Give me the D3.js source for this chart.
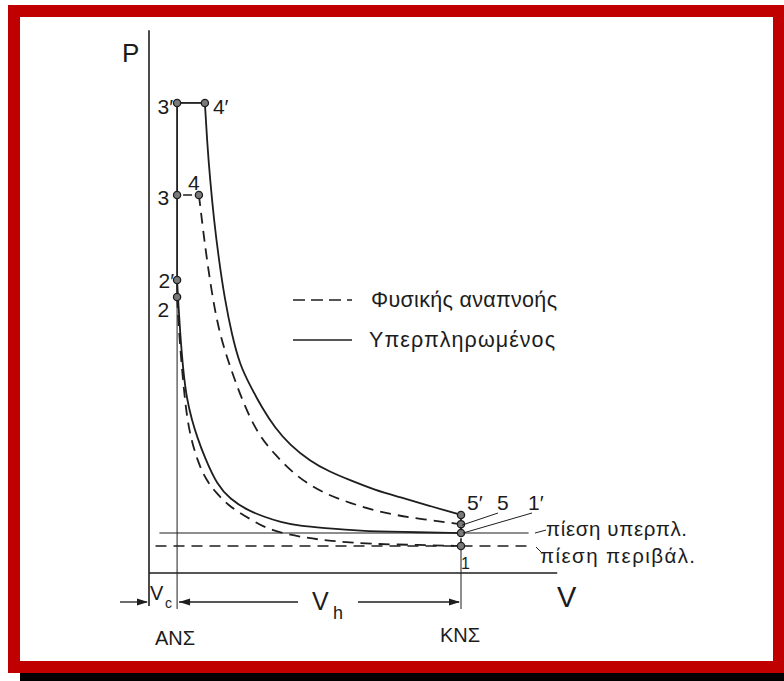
<!DOCTYPE html>
<html>
<head>
<meta charset="utf-8">
<script src="https://cdn.jsdelivr.net/npm/d3@7"></script>
<style>
body { margin: 0; background: #fff; }
svg { display: block; }
text { font-family: "Liberation Sans", Arial, sans-serif; fill: #1c1c1c; }
</style>
</head>
<body>
<div id="chart"></div>
<script>
// state points of the two cycles (V in units of Vc-ish, P in units of ambient pressure)
var pointNames = ["3′", "4′", "3", "4", "2′", "2", "5′", "5", "1′", "1"];
var pointV = [1.08, 2.15, 1.08, 1.92, 1.08, 1.08, 12, 12, 12, 12];
var pointP = [17.41, 17.41, 14.0, 14.0, 10.85, 10.22, 2.15, 1.81, 1.48, 1.0];

// supercharged (solid) expansion 4' -> 5'
var expSolidV = [2.15, 2.23, 2.35, 2.50, 2.69, 2.92, 3.19, 3.50, 3.88, 4.35, 4.85, 5.42, 6.19, 6.96, 7.73, 8.69, 9.65, 10.81, 12];
var expSolidP = [17.41, 16.04, 14.56, 13.07, 11.59, 10.11, 8.81, 7.70, 6.96, 6.11, 5.37, 4.74, 4.15, 3.74, 3.44, 3.07, 2.81, 2.48, 2.15];
// natural aspiration (dashed) expansion 4 -> 5
var expDashV = [1.92, 2.08, 2.23, 2.46, 2.73, 3.12, 3.58, 4.15, 4.85, 5.69, 6.69, 7.73, 9.0, 10.42, 12];
var expDashP = [14.0, 12.70, 11.59, 10.11, 8.81, 7.63, 6.41, 5.19, 4.37, 3.56, 2.96, 2.59, 2.22, 2.0, 1.81];
// supercharged compression 2' <- 1'
var compSolidV = [1.08, 1.12, 1.19, 1.31, 1.46, 1.65, 1.85, 2.15, 2.62, 3.12, 3.77, 4.46, 5.04, 5.81, 6.69, 8.12, 9.65, 12];
var compSolidP = [10.85, 10.11, 9.0, 7.52, 6.41, 5.67, 5.04, 4.26, 3.26, 2.74, 2.33, 2.07, 1.89, 1.74, 1.67, 1.56, 1.52, 1.48];
// natural compression 2 <- 1
var compDashV = [1.08, 1.15, 1.27, 1.42, 1.58, 1.85, 2.19, 2.62, 3.04, 3.50, 4.08, 4.65, 5.81, 6.96, 8.5, 10.42, 12];
var compDashP = [10.22, 9.0, 7.52, 6.04, 5.11, 4.19, 3.44, 2.93, 2.52, 2.22, 1.89, 1.59, 1.33, 1.19, 1.07, 1.04, 1.0];

var pSuper = 1.48, pAmb = 1.0;
var vANS = 1.08, vKNS = 12;
var legendLabels = ["Φυσικής αναπνοής", "Υπερπληρωμένος"];
var pressureLabels = ["πίεση υπερπλ.", "πίεση περιβάλ."];

var W = 784, H = 681;
var svg = d3.select("#chart").append("svg").attr("width", W).attr("height", H);

// frame
svg.append("rect").attr("x", 20).attr("y", 673).attr("width", 764).attr("height", 8).attr("fill", "#000");
svg.append("rect").attr("x", 8).attr("y", 5).attr("width", 776).attr("height", 668).attr("fill", "#c00000");
svg.append("rect").attr("x", 20).attr("y", 17).attr("width", 753).attr("height", 644).attr("fill", "#fff");

var x = d3.scaleLinear().domain([0, 16]).range([149, 565]);
var y = d3.scaleLinear().domain([0, 20]).range([573, 33]);

var ink = "#1e1e1e";
var g = svg.append("g");

function seg(x1, y1, x2, y2, w, dash, col) {
    var l = g.append("line").attr("x1", x1).attr("y1", y1).attr("x2", x2).attr("y2", y2)
        .attr("stroke", col || ink).attr("stroke-width", w);
    if (dash) l.attr("stroke-dasharray", dash);
    return l;
}
function arrow(xt, yt, dir) {
    // filled arrowhead, tip at (xt,yt), dir = +1 points right, -1 points left
    g.append("path").attr("d", "M" + xt + "," + yt + "L" + (xt - dir * 11) + "," + (yt - 3.5) + "L" + (xt - dir * 11) + "," + (yt + 3.5) + "Z")
        .attr("fill", ink);
}
function txt(s, tx, ty, size, anchor) {
    return g.append("text").attr("x", tx).attr("y", ty).attr("font-size", size)
        .attr("text-anchor", anchor || "start").text(s);
}

// axes
seg(x(0), y(20.1), x(0), 606, 1.6);
seg(x(0), y(0), x(15.7), y(0), 1.4);
txt("P", 122, 62, 26);
txt("V", 557, 607, 29);

// ANS / KNS lines and pressure levels
seg(x(vANS), y(pointP[5]), x(vANS), 609, 1);
seg(x(vKNS), y(pAmb), x(vKNS), 609, 1);
seg(x(0.4), y(pSuper), x(14.6), y(pSuper), 1.1);
seg(x(0.25), y(pAmb), x(14.55), y(pAmb), 1.4, "11,7");
seg(535, y(pSuper), 546, y(pSuper) - 3, 1);
seg(536, y(pAmb) + 1, 541, y(pAmb) + 6, 1);
txt(pressureLabels[0], 546, 536, 20.5).attr("textLength", 141);
txt(pressureLabels[1], 540, 563, 20.5).attr("textLength", 155);

var line = d3.line().x(function(d) { return x(d[0]); }).y(function(d) { return y(d[1]); })
    .curve(d3.curveBasis);
function curve(vs, ps, dash) {
    var p = g.append("path").datum(d3.zip(vs, ps)).attr("d", line)
        .attr("fill", "none").attr("stroke", ink).attr("stroke-width", 1.8);
    if (dash) p.attr("stroke-dasharray", dash);
}
curve(expSolidV, expSolidP);
curve(compSolidV, compSolidP);
curve(expDashV, expDashP, "11,7");
curve(compDashV, compDashP, "11,7");

// constant volume / pressure segments
seg(x(pointV[0]), y(pointP[0]), x(pointV[1]), y(pointP[1]), 1.8);
seg(x(vANS), y(pointP[0]), x(vANS), y(pointP[5]), 1.8);
seg(x(pointV[2]), y(pointP[2]), x(pointV[3]), y(pointP[3]), 1.6, "0,6,9,40");
seg(x(vKNS), y(pointP[6]), x(vKNS), y(pointP[8]), 1.8);
seg(x(vKNS), y(pointP[7]), x(vKNS), y(pointP[9]), 1.6, "4,3");

// state points
pointNames.forEach(function(n, i) {
    g.append("circle").attr("cx", x(pointV[i])).attr("cy", y(pointP[i])).attr("r", 3.6)
        .attr("fill", "#7a7a7a").attr("stroke", ink).attr("stroke-width", 1.3);
});
var labelPos = [[-4, 11, "end", 21], [8, 11, "start", 21], [-8, 10, "end", 21], [-11, -5, "start", 21],
    [-3, 8, "end", 21], [-8, 20, "end", 21], [6, -5, "start", 21], [36, -14, "start", 21],
    [67, -23, "start", 21], [0, 23, "start", 16]];
pointNames.forEach(function(n, i) {
    var lp = labelPos[i];
    txt(n, x(pointV[i]) + lp[0], y(pointP[i]) + lp[1], lp[3], lp[2]);
});
seg(498, 513, x(vKNS) + 1, y(pointP[7]) + 1, 1);
seg(532, 513, x(vKNS) + 2, y(pointP[8]), 1);

// legend
seg(293, 300, 352, 300, 1.6, "12,6");
txt(legendLabels[0], 371, 307, 21.5).attr("textLength", 186);
seg(293, 340, 352, 340, 1.6);
txt(legendLabels[1], 369, 347, 21.5).attr("textLength", 186);

// dimension line Vc / Vh
var yd = 602;
seg(120, yd, x(0) - 2, yd, 1.3); arrow(x(0) - 1, yd, 1);
txt("V", 150, 600, 20); txt("c", 165, 608, 14);
seg(x(vANS) + 2, yd, 298, yd, 1.3); arrow(x(vANS) + 2, yd, -1);
txt("V", 312, 610, 25); txt("h", 333, 619, 18);
seg(358, yd, x(vKNS) - 2, yd, 1.3); arrow(x(vKNS) - 1, yd, 1);
txt("ΑΝΣ", 155, 645, 20);
txt("ΚΝΣ", 440, 642, 20);
</script>
</body>
</html>
